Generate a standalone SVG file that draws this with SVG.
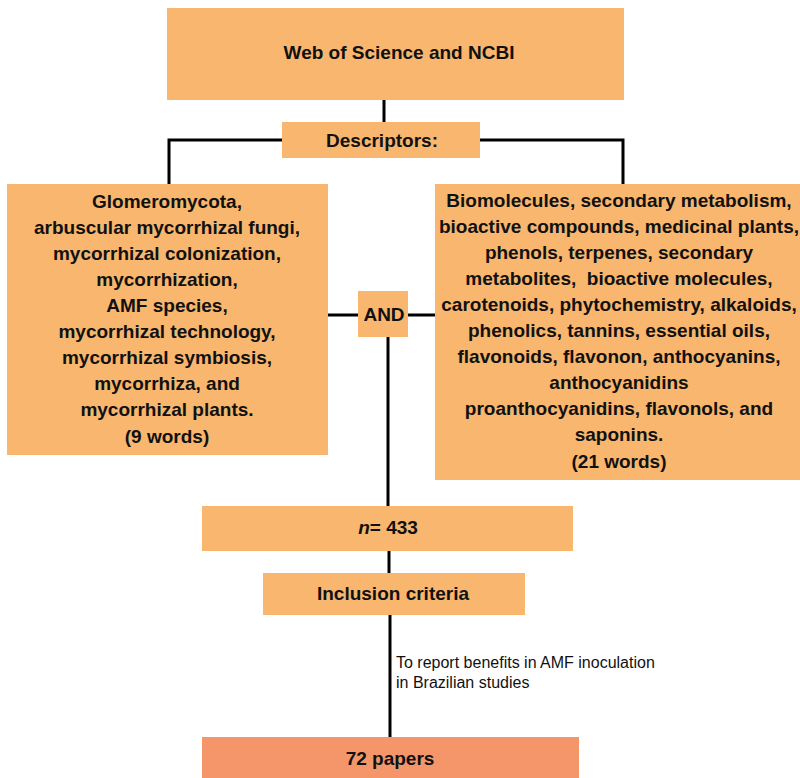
<svg xmlns="http://www.w3.org/2000/svg" width="800" height="778" viewBox="0 0 800 778">
<style>
.box{fill:#F8B66E}
.box2{fill:#F49669}
.t{font-family:"Liberation Sans",Arial,sans-serif;font-weight:bold;font-size:19px;fill:#111;text-anchor:middle}
.s{font-family:"Liberation Sans",Arial,sans-serif;font-size:16px;fill:#111}
.c{stroke:#000;stroke-width:3;fill:none}
</style>
<rect width="800" height="778" fill="#fff"/>
<g id="connectors">
<path class="c" d="M384 100V122"/>
<path class="c" d="M282 140H169V184"/>
<path class="c" d="M480 140H623V184"/>
<path class="c" d="M328 315H358"/>
<path class="c" d="M408 315H435"/>
<path class="c" d="M388 337V506"/>
<path class="c" d="M389 551V573"/>
<path class="c" d="M390 615V737"/>
<text class="s" x="396" y="668">To report benefits in AMF inoculation</text>
<text class="s" x="396" y="688">in Brazilian studies</text>
</g>
<g id="source">
<rect class="box" x="167" y="8" width="457" height="92"/>
<text class="t" x="399" y="59">Web of Science and NCBI</text>
</g>
<g id="descriptors">
<rect class="box" x="282" y="122" width="198" height="36"/>
<text class="t" x="382" y="147">Descriptors:</text>
</g>
<g id="left">
<rect class="box" x="7" y="184" width="321" height="271"/>
<text class="t" x="167" y="208">Glomeromycota,</text>
<text class="t" x="167" y="234">arbuscular mycorrhizal fungi,</text>
<text class="t" x="167" y="260">mycorrhizal colonization,</text>
<text class="t" x="167" y="286">mycorrhization,</text>
<text class="t" x="167" y="312">AMF species,</text>
<text class="t" x="167" y="338">mycorrhizal technology,</text>
<text class="t" x="167" y="364">mycorrhizal symbiosis,</text>
<text class="t" x="167" y="390">mycorrhiza, and</text>
<text class="t" x="167" y="416">mycorrhizal plants.</text>
<text class="t" x="167" y="443">(9 words)</text>
</g>
<g id="and">
<rect class="box" x="358" y="291" width="50" height="46"/>
<text class="t" x="384" y="321">AND</text>
</g>
<g id="right">
<rect class="box" x="435" y="184" width="365" height="296"/>
<text class="t" x="619" y="207">Biomolecules, secondary metabolism,</text>
<text class="t" x="619" y="233">bioactive compounds, medicinal plants,</text>
<text class="t" x="619" y="259">phenols, terpenes, secondary</text>
<text class="t" x="619" y="285" xml:space="preserve">metabolites,  bioactive molecules,</text>
<text class="t" x="619" y="311">carotenoids, phytochemistry, alkaloids,</text>
<text class="t" x="619" y="337">phenolics, tannins, essential oils,</text>
<text class="t" x="619" y="363">flavonoids, flavonon, anthocyanins,</text>
<text class="t" x="619" y="389">anthocyanidins</text>
<text class="t" x="619" y="415">proanthocyanidins, flavonols, and</text>
<text class="t" x="619" y="441">saponins.</text>
<text class="t" x="619" y="468">(21 words)</text>
</g>
<g id="n433">
<rect class="box" x="202" y="506" width="371" height="45"/>
<text class="t" x="388" y="534"><tspan font-style="italic">n</tspan>= 433</text>
</g>
<g id="inclusion">
<rect class="box" x="263" y="573" width="262" height="42"/>
<text class="t" x="393" y="600">Inclusion criteria</text>
</g>
<g id="papers">
<rect class="box2" x="202" y="737" width="377" height="41"/>
<text class="t" x="390" y="765">72 papers</text>
</g>
</svg>
